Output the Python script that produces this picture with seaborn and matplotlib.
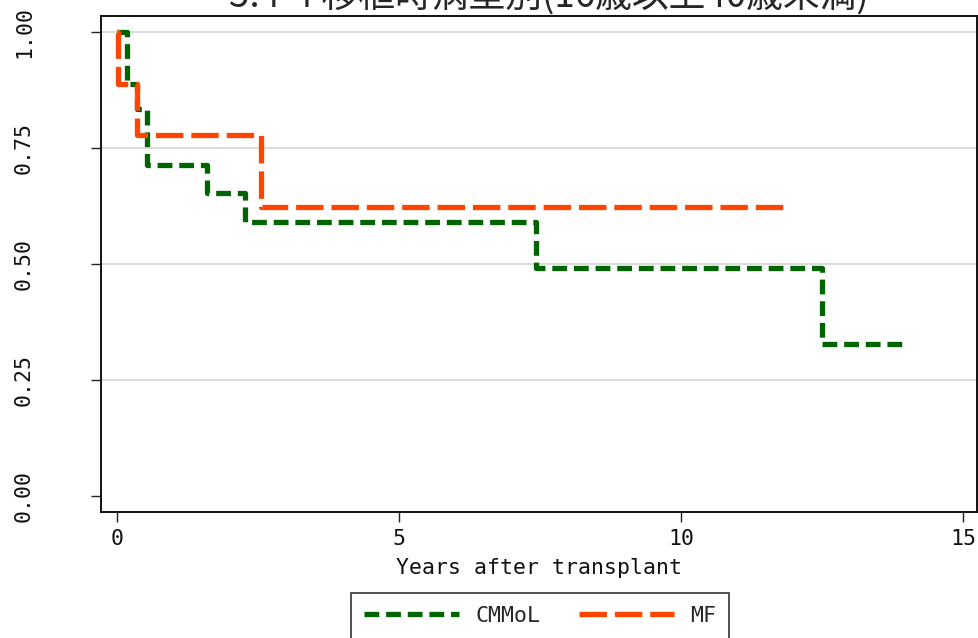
import numpy as np
import pandas as pd
import seaborn as sns
from matplotlib import pyplot as plt

# Kaplan-Meier steps
cmmol_time = [0, 0.17, 0.35, 0.53, 1.59, 2.27, 7.43, 12.51, 13.94]
cmmol_surv = [1.0, 0.889, 0.833, 0.714, 0.654, 0.591, 0.491, 0.328, 0.328]
mf_time = [0, 0.02, 0.35, 2.55, 11.81]
mf_surv = [1.0, 0.889, 0.778, 0.622, 0.622]

groups = ["CMMoL", "MF"]
y_ticks = [0.0, 0.25, 0.5, 0.75, 1.0]
x_ticks = [0, 5, 10, 15]
title = "5.4-4 移植時病型別(16歳以上40歳未満)"

df = pd.concat(
    [
        pd.DataFrame({"time": cmmol_time, "surv": cmmol_surv, "group": "CMMoL"}),
        pd.DataFrame({"time": mf_time, "surv": mf_surv, "group": "MF"}),
    ],
    ignore_index=True,
)

sns.set_style("white")
plt.rcParams["font.family"] = ["DejaVu Sans Mono"]

W, H = 979, 638
fig = plt.figure(figsize=(W / 100, H / 100), dpi=100)
ax = fig.add_axes([101 / W, 1 - 511.7 / H, (977 - 101) / W, (511.7 - 16) / H])

# light grid lines (none on 0)
for v in y_ticks[1:]:
    ax.axhline(v, color="#dcdcdc", lw=1.6, zorder=0)

palette = {"CMMoL": "#006400", "MF": "#ff4500"}
dashes = {"CMMoL": (2.8, 1.3), "MF": (5.2, 1.5)}
sns.lineplot(
    data=df,
    x="time",
    y="surv",
    hue="group",
    style="group",
    hue_order=groups,
    style_order=groups,
    palette=palette,
    dashes=dashes,
    estimator=None,
    drawstyle="steps-post",
    lw=3.8,
    ax=ax,
)

fs = 15.5
ax.set_xlim(-0.284, 15.25)
ax.set_ylim(-0.0338, 1.0345)
ax.set_xticks(x_ticks)
ax.set_yticks(y_ticks)
ax.set_yticklabels([f"{v:.2f}" for v in y_ticks])
ax.tick_params(axis="both", direction="out", length=7.2, width=1.0, color="#222222",
               labelsize=fs, left=True, bottom=True, labelcolor="#111111")
ax.tick_params(axis="x", pad=5.5)
ax.tick_params(axis="y", pad=41, labelrotation=90)
for lab in ax.get_yticklabels():
    lab.set_va("center")
for s in ax.spines.values():
    s.set_color("#111111")
    s.set_linewidth(1.4)

ax.set_xlabel("Years after transplant", fontsize=fs, labelpad=6.5, color="#111111")
ax.set_ylabel("")

handles, labels = ax.get_legend_handles_labels()
ax.get_legend().remove()
leg = fig.legend(
    handles,
    labels,
    loc="center",
    bbox_to_anchor=(540 / W, 1 - 616 / H),
    ncol=2,
    frameon=True,
    fancybox=False,
    edgecolor="black",
    fontsize=fs,
    handlelength=4.4,
    handletextpad=0.75,
    columnspacing=1.8,
    borderpad=0.6,
)
leg.get_frame().set_linewidth(1.2)

fig.text(549 / W, 1 - 7 / H, title, ha="center", va="baseline", fontsize=26.5,
         family=["Noto Sans CJK JP", "DejaVu Sans"])

plt.savefig("out.png", dpi=100)
